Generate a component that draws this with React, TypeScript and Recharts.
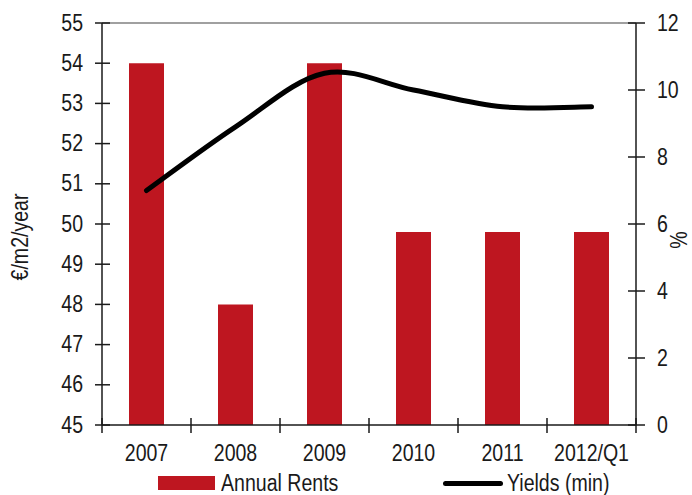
import {
  ComposedChart,
  Bar,
  Line,
  XAxis,
  YAxis,
  Legend,
  ReferenceLine,
  Label,
} from "recharts";

const years = ["2007", "2008", "2009", "2010", "2011", "2012/Q1"];
const annualRents = [54, 48, 54, 49.8, 49.8, 49.8];
const yieldsMin = [7.0, 8.9, 10.5, 10.0, 9.5, 9.5];
const rentTicks = [45, 46, 47, 48, 49, 50, 51, 52, 53, 54, 55];
const yieldTicks = [0, 2, 4, 6, 8, 10, 12];

const data = years.map((year, i) => ({
  year,
  rents: annualRents[i],
  yields: yieldsMin[i],
}));

const FONT = '"Liberation Sans", Arial, sans-serif';
const NARROW = 0.85; // squeeze Liberation Sans into an Arial Narrow look
const RED = "#BE1620";
const INK = "#1a1a1a";
const FS = 23;

// plot box in chart pixels
const PLOT = { left: 102, right: 636, top: 23, bottom: 425 };

// Excel-style smoothed line (Catmull-Rom as cubic beziers)
function smoothCurve(context: any) {
  let pts: number[][] = [];
  return {
    areaStart() {},
    areaEnd() {},
    lineStart() {
      pts = [];
    },
    point(x: number, y: number) {
      pts.push([x, y]);
    },
    lineEnd() {
      if (!pts.length) return;
      context.moveTo(pts[0][0], pts[0][1]);
      for (let i = 0; i < pts.length - 1; i++) {
        const p0 = pts[Math.max(i - 1, 0)];
        const p1 = pts[i];
        const p2 = pts[i + 1];
        const p3 = pts[Math.min(i + 2, pts.length - 1)];
        context.bezierCurveTo(
          p1[0] + (p2[0] - p0[0]) / 6,
          p1[1] + (p2[1] - p0[1]) / 6,
          p2[0] - (p3[0] - p1[0]) / 6,
          p2[1] - (p3[1] - p1[1]) / 6,
          p2[0],
          p2[1]
        );
      }
    },
  };
}

function Txt({ x, y, anchor = "middle", rotate = 0, children }: any) {
  return (
    <text
      transform={`translate(${x} ${y}) rotate(${rotate}) scale(${NARROW} 1)`}
      textAnchor={anchor}
      dominantBaseline="central"
      fontFamily={FONT}
      fontSize={FS}
      fill={INK}
    >
      {children}
    </text>
  );
}

function YearTick(props: any) {
  const { x, payload, index } = props;
  const band = (PLOT.right - PLOT.left) / years.length;
  const edge = x - band / 2;
  return (
    <g>
      <line x1={edge} x2={edge} y1={PLOT.bottom - 7} y2={PLOT.bottom + 8} stroke={INK} strokeWidth={1.5} />
      {index === years.length - 1 && (
        <line x1={x + band / 2} x2={x + band / 2} y1={PLOT.bottom - 7} y2={PLOT.bottom + 8} stroke={INK} strokeWidth={1.5} />
      )}
      <Txt x={x} y={453}>{payload.value}</Txt>
    </g>
  );
}

function RentTick(props: any) {
  const { y, payload } = props;
  return (
    <g>
      <line x1={PLOT.left - 7} x2={PLOT.left + 8} y1={y} y2={y} stroke={INK} strokeWidth={1.5} />
      <Txt x={83} y={y} anchor="end">{payload.value}</Txt>
    </g>
  );
}

function YieldTick(props: any) {
  const { y, payload } = props;
  return (
    <g>
      <line x1={PLOT.right - 8} x2={PLOT.right + 9} y1={y} y2={y} stroke={INK} strokeWidth={1.5} />
      <Txt x={657} y={y} anchor="start">{payload.value}</Txt>
    </g>
  );
}

function LegendBox() {
  const text = {
    position: "absolute" as const,
    top: 0,
    lineHeight: "24px",
    fontSize: FS,
    color: INK,
    whiteSpace: "nowrap" as const,
    transform: `scaleX(${NARROW})`,
    transformOrigin: "left center",
  };
  return (
    <div style={{ position: "relative", width: 692, height: 24, fontFamily: FONT }}>
      <span style={{ position: "absolute", left: 158, top: 5, width: 57, height: 14, background: RED }} />
      <span style={{ ...text, left: 221 }}>Annual Rents</span>
      <span style={{ position: "absolute", left: 443, top: 10, width: 60, height: 5, borderRadius: 3, background: "#000" }} />
      <span style={{ ...text, left: 507 }}>Yields (min)</span>
    </div>
  );
}

export default function App() {
  return (
    <div style={{ position: "absolute", left: 0, top: 0, width: 692, height: 495, background: "#fff" }}>
      <ComposedChart width={692} height={495} data={data} margin={{ top: PLOT.top, right: 0, bottom: 0, left: 0 }}>
        <XAxis
          dataKey="year"
          height={46}
          axisLine={{ stroke: INK, strokeWidth: 1.5 }}
          tickLine={false}
          tick={<YearTick />}
          interval={0}
        />
        <YAxis
          yAxisId="left"
          width={102}
          domain={[45, 55]}
          ticks={rentTicks}
          allowDataOverflow
          axisLine={{ stroke: INK, strokeWidth: 1.5 }}
          tickLine={false}
          tick={<RentTick />}
        >
          <Label content={() => <Txt x={20} y={237} rotate={-90}>€/m2/year</Txt>} />
        </YAxis>
        <YAxis
          yAxisId="right"
          orientation="right"
          width={56}
          domain={[0, 12]}
          ticks={yieldTicks}
          axisLine={{ stroke: INK, strokeWidth: 1.5 }}
          tickLine={false}
          tick={<YieldTick />}
        >
          <Label content={() => <Txt x={679} y={240} rotate={-90}>%</Txt>} />
        </YAxis>
        <ReferenceLine yAxisId="left" y={55} stroke="#808080" strokeWidth={1.5} />
        <Bar yAxisId="left" dataKey="rents" name="Annual Rents" fill={RED} barSize={35} isAnimationActive={false} />
        <Line
          yAxisId="right"
          type={smoothCurve as any}
          dataKey="yields"
          name="Yields (min)"
          stroke="#000"
          strokeWidth={5}
          strokeLinecap="round"
          dot={false}
          isAnimationActive={false}
        />
        <Legend verticalAlign="bottom" height={24} wrapperStyle={{ left: 0, width: 692 }} content={() => <LegendBox />} />
      </ComposedChart>
    </div>
  );
}
